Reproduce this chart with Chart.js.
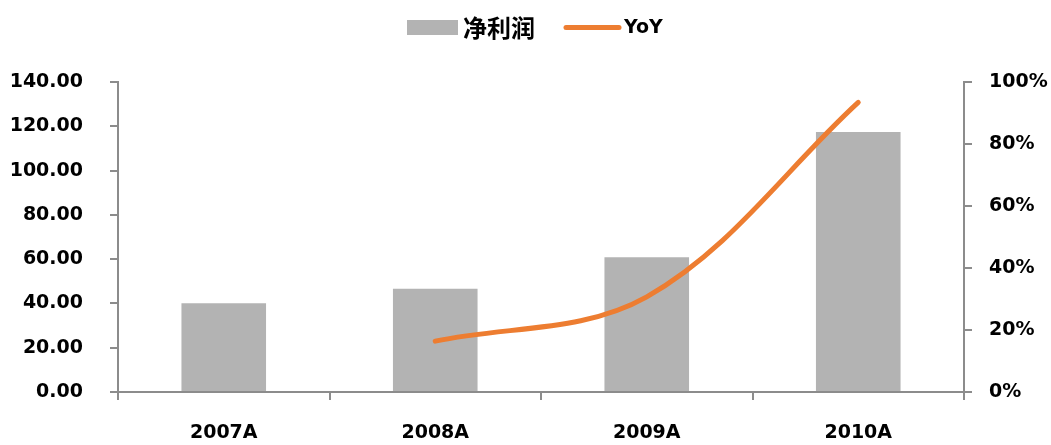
<!DOCTYPE html>
<html>
<head>
<meta charset="utf-8">
<script src="https://cdn.jsdelivr.net/npm/chart.js@4/dist/chart.umd.min.js"></script>
<style>
  body { margin: 0; background: #fff; }
  #wrap { width: 1051px; height: 445px; }
</style>
</head>
<body>
<div id="wrap"><canvas id="profit" width="1051" height="445"></canvas></div>
<script>
// 年份与数据
const years = ['2007A', '2008A', '2009A', '2010A'];
const netProfit = [40.1, 46.6, 60.9, 117.4];
const yoy = [null, 16.4, 30.7, 93.4];
const leftTicks = [0, 20, 40, 60, 80, 100, 120, 140];
const rightTicks = [0, 20, 40, 60, 80, 100];

const axisGray = '#8c8c8c';
const barGray = '#b3b3b3';
const orange = '#ed7d31';
const tickFont = { family: 'DejaVu Sans', size: 19, weight: 'bold' };

// 图例（顶部居中）
const topLegend = {
    id: 'topLegend',
    afterDraw(chart) {
        const c = chart.ctx;
        c.save();
        c.fillStyle = barGray;
        c.fillRect(407, 20, 51, 15);
        c.fillStyle = '#000';
        c.textBaseline = 'middle';
        c.font = 'bold 24px "Noto Sans CJK SC"';
        c.fillText('净利润', 463, 28);
        c.strokeStyle = orange;
        c.lineWidth = 5;
        c.lineCap = 'round';
        c.beginPath();
        c.moveTo(566, 27.5);
        c.lineTo(619, 27.5);
        c.stroke();
        c.fillStyle = '#000';
        c.font = 'bold 19px "DejaVu Sans"';
        c.fillText('YoY', 624, 28);
        c.restore();
    }
};

const ctx = document.getElementById('profit').getContext('2d');
const chart = new Chart(ctx, {
    type: 'bar',
    data: {
        labels: years,
        datasets: [{
            type: 'bar',
            label: '净利润',
            data: netProfit,
            backgroundColor: barGray,
            categoryPercentage: 1,
            barPercentage: 0.4,
            yAxisID: 'y',
            order: 2
        }, {
            type: 'line',
            label: 'YoY',
            data: yoy,
            borderColor: orange,
            borderWidth: 5,
            borderCapStyle: 'round',
            tension: 0.35,
            pointRadius: 0,
            fill: false,
            yAxisID: 'y1',
            order: 1
        }]
    },
    options: {
        responsive: false,
        animation: false,
        layout: { padding: { top: 82, left: 0, right: 0, bottom: 0 } },
        plugins: { legend: { display: false }, tooltip: { enabled: false } },
        scales: {
            x: {
                offset: true,
                afterFit(s) { s.height = 53; },
                grid: { offset: true, drawOnChartArea: false, drawTicks: true, tickLength: 8, color: axisGray, lineWidth: 2 },
                border: { color: axisGray, width: 2 },
                ticks: { color: '#000', font: tickFont, padding: 22, maxRotation: 0 }
            },
            y: {
                position: 'left',
                min: 0,
                max: 140,
                afterFit(s) { s.width = 118; },
                afterBuildTicks(s) { s.ticks = leftTicks.map(v => ({ value: v })); },
                grid: { drawOnChartArea: false, tickLength: 8, color: axisGray, lineWidth: 2 },
                border: { color: axisGray, width: 2 },
                ticks: { color: '#000', font: tickFont, padding: 27, callback: v => v.toFixed(2) }
            },
            y1: {
                position: 'right',
                min: 0,
                max: 100,
                afterFit(s) { s.width = 87; },
                afterBuildTicks(s) { s.ticks = rightTicks.map(v => ({ value: v })); },
                grid: { drawOnChartArea: false, tickLength: 8, color: axisGray, lineWidth: 2 },
                border: { color: axisGray, width: 2 },
                ticks: { color: '#000', font: tickFont, padding: 17, callback: v => v + '%' }
            }
        }
    },
    plugins: [topLegend]
});
</script>
</body>
</html>
